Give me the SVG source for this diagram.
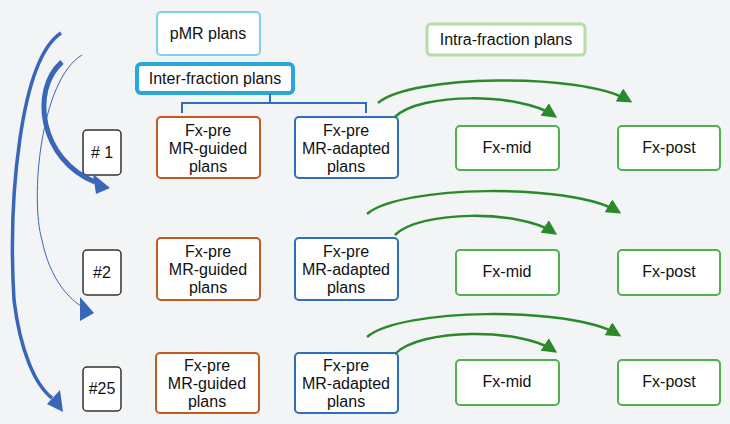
<svg xmlns="http://www.w3.org/2000/svg" width="730" height="424" viewBox="0 0 730 424">
<style>
text{font-family:"Liberation Sans",Arial,sans-serif;font-size:16px;fill:#111;text-anchor:middle}
.b{fill:#fff;rx:4}
.or{stroke:#c55a20;stroke-width:2}
.bl{stroke:#2f6dbf;stroke-width:2}
.gr{stroke:#4fb04f;stroke-width:2}
.num{stroke:#333;stroke-width:1.5}
.ga{fill:none;stroke:#2a8a2a;stroke-width:2.5;marker-end:url(#gh)}
</style>
<defs>
<marker id="gh" markerWidth="6" markerHeight="6" refX="4" refY="3" orient="auto" markerUnits="strokeWidth"><path d="M0,0L6,3L0,6z" fill="#2a8a2a"/></marker>
</defs>
<rect width="730" height="424" fill="#f3f4f6"/>
<g id="pmr"><rect x="157" y="12" width="103" height="43" class="b" stroke="#7fd0e8" stroke-width="2"/><text x="208" y="39">pMR plans</text></g>
<g id="inter"><rect x="137" y="64" width="156" height="29" class="b" stroke="#29a6dc" stroke-width="4"/><text x="215" y="84">Inter-fraction plans</text></g>
<g id="intra"><rect x="427" y="24" width="158" height="31" class="b" stroke="#b6dcaa" stroke-width="3"/><text x="506" y="45">Intra-fraction plans</text></g>
<g id="n1"><rect x="83" y="130" width="38" height="45" class="b num"/><text x="102" y="158">#&#160;1</text></g>
<g id="n2"><rect x="83" y="250" width="38" height="45" class="b num"/><text x="102" y="278">#2</text></g>
<g id="n25"><rect x="83" y="367" width="38" height="44" class="b num"/><text x="102" y="394">#25</text></g>
<g id="g1"><rect x="157" y="117" width="103" height="61" class="b or"/><text x="208" y="136">Fx-pre</text><text x="208" y="154">MR-guided</text><text x="208" y="172">plans</text></g>
<g id="a1"><rect x="295" y="117" width="103" height="61" class="b bl"/><text x="346" y="136">Fx-pre</text><text x="346" y="154">MR-adapted</text><text x="346" y="172">plans</text></g>
<g id="m1"><rect x="456" y="126" width="103" height="44" class="b gr"/><text x="507" y="153">Fx-mid</text></g>
<g id="p1"><rect x="618" y="126" width="102" height="44" class="b gr"/><text x="669" y="153">Fx-post</text></g>
<g id="g2"><rect x="157" y="238" width="103" height="62" class="b or"/><text x="208" y="257">Fx-pre</text><text x="208" y="275">MR-guided</text><text x="208" y="293">plans</text></g>
<g id="a2"><rect x="295" y="238" width="103" height="62" class="b bl"/><text x="346" y="257">Fx-pre</text><text x="346" y="275">MR-adapted</text><text x="346" y="293">plans</text></g>
<g id="m2"><rect x="456" y="250" width="103" height="45" class="b gr"/><text x="507" y="277">Fx-mid</text></g>
<g id="p2"><rect x="618" y="250" width="102" height="45" class="b gr"/><text x="669" y="277">Fx-post</text></g>
<g id="g3"><rect x="156" y="353" width="103" height="60" class="b or"/><text x="207" y="371">Fx-pre</text><text x="207" y="389">MR-guided</text><text x="207" y="407">plans</text></g>
<g id="a3"><rect x="295" y="353" width="103" height="60" class="b bl"/><text x="346" y="371">Fx-pre</text><text x="346" y="389">MR-adapted</text><text x="346" y="407">plans</text></g>
<g id="m3"><rect x="456" y="360" width="103" height="45" class="b gr"/><text x="507" y="387">Fx-mid</text></g>
<g id="p3"><rect x="618" y="360" width="102" height="45" class="b gr"/><text x="669" y="387">Fx-post</text></g>
<g id="connectors">
<path d="M270,94V103M182,113V103H366V113" fill="none" stroke="#2f6dbf" stroke-width="2"/>
<path class="ga" d="M378,103C410,75 580,72 628,100"/>
<path class="ga" d="M395,117C420,92 520,93 553,115"/>
<path class="ga" d="M367,214C400,185 570,183 617,211"/>
<path class="ga" d="M395,235C420,210 520,210 553,232"/>
<path class="ga" d="M367,337C400,308 570,306 617,334"/>
<path class="ga" d="M395,354C420,328 520,328 553,350"/>
<path d="M61,33C20,60 8,200 14,300C20,350 35,385 52,398" fill="none" stroke="#3a66b8" stroke-width="3.5"/>
<polygon points="47,404 60,390 63,412" fill="#3a66b8"/>
<path d="M62,62C30,90 40,160 95,182" fill="none" stroke="#3a66b8" stroke-width="5"/>
<polygon points="93,174 110,188 96,194" fill="#3a66b8"/>
<path d="M82,55C40,80 30,200 42,240C50,280 70,300 84,308" fill="none" stroke="#3a66b8" stroke-width="1"/>
<polygon points="80,297 94,313 80,321" fill="#3a66b8"/>
</g>
</svg>
